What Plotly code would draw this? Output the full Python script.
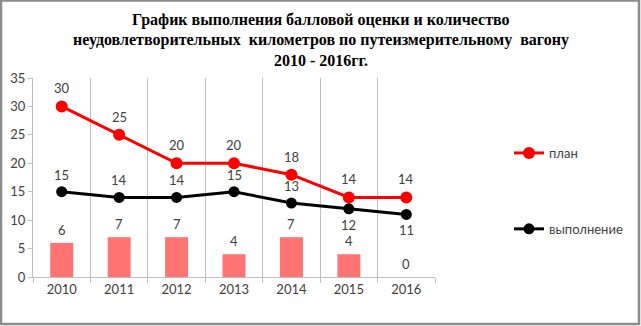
import plotly.graph_objects as go

W, H = 641, 326

years = ["2010", "2011", "2012", "2013", "2014", "2015", "2016"]
plan = [30, 25, 20, 20, 18, 14, 14]
done = [15, 14, 14, 15, 13, 12, 11]
bad_km = [6, 7, 7, 4, 7, 4, 0]
# where the "выполнение" labels sit relative to their points
done_label_side = ["above", "above", "above", "above", "above", "below", "below"]
y_ticks = [0, 5, 10, 15, 20, 25, 30, 35]

title_lines = [
    "График выполнения балловой оценки и количество",
    "неудовлетворительных&nbsp; километров по путеизмерительному&nbsp; вагону",
    "2010 - 2016гг.",
]

label_font = dict(family="Lato, Liberation Sans, sans-serif", size=13, color="#404040")

# plot area in pixels
px_l, px_r, px_top, px_bot = 33, 435, 78, 277

fig = go.Figure()

fig.add_trace(go.Bar(
    x=years, y=bad_km, width=0.4,
    marker=dict(color="#FF7373", line=dict(width=0)),
    showlegend=False, hoverinfo="x+y",
))

fig.add_trace(go.Scatter(
    x=years, y=plan, mode="lines+markers", name="план",
    line=dict(color="#FF0000", width=3),
    marker=dict(color="#FF0000", size=12),
    legendgroup="a",
))

fig.add_trace(go.Scatter(
    x=years, y=done, mode="lines+markers", name="выполнение",
    line=dict(color="#000000", width=3),
    marker=dict(color="#000000", size=11),
    legendgroup="b",
))

# value labels; on a category axis annotations take the category index
ann = []
for i, v in enumerate(plan):
    ann.append(dict(x=i, y=v, text=str(v), showarrow=False, yshift=18,
                    font=label_font, xref="x", yref="y"))
for i, (v, side) in enumerate(zip(done, done_label_side)):
    ann.append(dict(x=i, y=v, text=str(v), showarrow=False,
                    yshift=17 if side == "above" else -16,
                    font=label_font, xref="x", yref="y"))
for i, v in enumerate(bad_km):
    ann.append(dict(x=i, y=v, text=str(v), showarrow=False, yshift=13,
                    font=label_font, xref="x", yref="y"))

# three centred title lines, 20 px apart
for k, line in enumerate(title_lines):
    ann.append(dict(
        x=0.5, y=1 - (20 + 20 * k) / H, xref="paper", yref="paper",
        xanchor="center", yanchor="middle",
        text="<b>" + line + "</b>", showarrow=False,
        font=dict(family="Liberation Serif, Times New Roman, serif", size=16, color="#000000"),
    ))

tick_font = dict(family="Lato, Liberation Sans, sans-serif", size=13, color="#404040")

fig.update_layout(
    width=W, height=H,
    margin=dict(l=0, r=0, t=0, b=0, autoexpand=False),
    paper_bgcolor="white", plot_bgcolor="white",
    annotations=ann,
    showlegend=True,
    legend=dict(
        x=509 / W, y=1 - 138 / H, xanchor="left", yanchor="top",
        font=label_font, tracegroupgap=56, traceorder="grouped",
        bgcolor="rgba(0,0,0,0)", itemwidth=30,
    ),
    xaxis=dict(
        domain=[px_l / W, px_r / W], automargin=False,
        type="category", tickson="boundaries",
        range=[-0.5, len(years) - 0.5],
        showgrid=True, gridcolor="#BFBFBF", gridwidth=1,
        showline=True, linecolor="#BFBFBF", linewidth=1,
        ticks="outside", ticklen=5, tickcolor="#BFBFBF",
        tickfont=tick_font, fixedrange=True,
    ),
    yaxis=dict(
        domain=[1 - px_bot / H, 1 - px_top / H], automargin=False,
        range=[0, 35], tickvals=y_ticks,
        showgrid=False, zeroline=False,
        showline=True, linecolor="#BFBFBF", linewidth=1,
        ticks="outside", ticklen=4, tickcolor="#BFBFBF",
        tickfont=tick_font, fixedrange=True,
    ),
    shapes=[
        dict(type="rect", xref="paper", yref="paper",
             x0=1 / W, x1=1 - 2 / W, y0=2 / H, y1=1 - 0.5 / H,
             line=dict(color="#8C8C8C", width=2.5), fillcolor="rgba(0,0,0,0)"),
    ],
)

fig.write_html("out.html")
